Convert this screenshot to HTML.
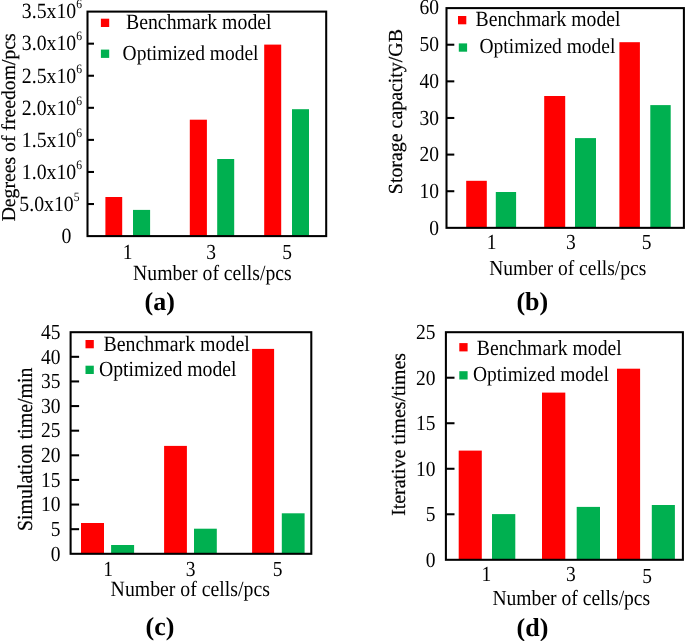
<!DOCTYPE html>
<html><head><meta charset="utf-8"><style>
html,body{margin:0;padding:0;background:#fff;}
body{width:685px;height:641px;overflow:hidden;}
svg{display:block;will-change:transform;}
text{font-family:"Liberation Serif", serif;fill:#000;text-rendering:geometricPrecision;}
</style></head><body>
<svg width="685" height="641" viewBox="0 0 685 641">
<rect width="685" height="641" fill="#fff"/>
<rect x="105.40" y="197.00" width="16.80" height="39.10" fill="#ff0000"/>
<rect x="133.00" y="209.90" width="17.10" height="26.20" fill="#00b050"/>
<rect x="189.80" y="119.70" width="17.10" height="116.40" fill="#ff0000"/>
<rect x="217.20" y="159.00" width="17.00" height="77.10" fill="#00b050"/>
<rect x="264.20" y="44.60" width="17.00" height="191.50" fill="#ff0000"/>
<rect x="292.00" y="109.20" width="17.00" height="126.90" fill="#00b050"/>
<rect x="100.90" y="18.70" width="8.30" height="8.30" fill="#ff0000"/>
<rect x="100.90" y="49.60" width="8.30" height="8.30" fill="#00b050"/>
<text transform="translate(126.00,28.70) scale(1,1.1)" text-anchor="start" font-size="19.8" font-weight="normal" >Benchmark model</text>
<text transform="translate(122.60,59.50) scale(1,1.1)" text-anchor="start" font-size="19.5" font-weight="normal" >Optimized model</text>
<line x1="87.50" y1="204.03" x2="94.00" y2="204.03" stroke="#000" stroke-width="2.05"/>
<line x1="87.50" y1="171.96" x2="94.00" y2="171.96" stroke="#000" stroke-width="2.05"/>
<line x1="87.50" y1="139.89" x2="94.00" y2="139.89" stroke="#000" stroke-width="2.05"/>
<line x1="87.50" y1="107.81" x2="94.00" y2="107.81" stroke="#000" stroke-width="2.05"/>
<line x1="87.50" y1="75.74" x2="94.00" y2="75.74" stroke="#000" stroke-width="2.05"/>
<line x1="87.50" y1="43.67" x2="94.00" y2="43.67" stroke="#000" stroke-width="2.05"/>
<rect x="87.50" y="11.60" width="238.70" height="224.50" fill="none" stroke="#000" stroke-width="2.05"/>
<text transform="translate(79.50,210.83) scale(1,1.1)" text-anchor="end" font-size="19.8" font-weight="normal" >5.0x10<tspan font-size="11.6" dy="-9.1">5</tspan></text>
<text transform="translate(82.00,178.76) scale(1,1.1)" text-anchor="end" font-size="19.8" font-weight="normal" >1.0x10<tspan font-size="11.6" dy="-9.1">6</tspan></text>
<text transform="translate(82.00,146.69) scale(1,1.1)" text-anchor="end" font-size="19.8" font-weight="normal" >1.5x10<tspan font-size="11.6" dy="-9.1">6</tspan></text>
<text transform="translate(82.00,114.61) scale(1,1.1)" text-anchor="end" font-size="19.8" font-weight="normal" >2.0x10<tspan font-size="11.6" dy="-9.1">6</tspan></text>
<text transform="translate(82.00,82.54) scale(1,1.1)" text-anchor="end" font-size="19.8" font-weight="normal" >2.5x10<tspan font-size="11.6" dy="-9.1">6</tspan></text>
<text transform="translate(82.00,50.47) scale(1,1.1)" text-anchor="end" font-size="19.8" font-weight="normal" >3.0x10<tspan font-size="11.6" dy="-9.1">6</tspan></text>
<text transform="translate(82.00,18.40) scale(1,1.1)" text-anchor="end" font-size="19.8" font-weight="normal" >3.5x10<tspan font-size="11.6" dy="-9.1">6</tspan></text>
<text transform="translate(71.50,242.60) scale(1,1.1)" text-anchor="end" font-size="19.8" font-weight="normal" >0</text>
<text transform="translate(127.70,258.50) scale(1,1.1)" text-anchor="middle" font-size="19.5" font-weight="normal" >1</text>
<text transform="translate(211.00,258.50) scale(1,1.1)" text-anchor="middle" font-size="19.5" font-weight="normal" >3</text>
<text transform="translate(287.00,258.50) scale(1,1.1)" text-anchor="middle" font-size="19.5" font-weight="normal" >5</text>
<text transform="translate(133.10,280.00) scale(1,1.1)" text-anchor="start" font-size="19.7" font-weight="normal" >Number of cells/pcs</text>
<text x="0" y="0" text-anchor="middle" font-size="19.7" transform="translate(14.50,127.35) rotate(-90) scale(1,1)" stroke="#000" stroke-width="0.2">Degrees of freedom/pcs</text>
<text x="144.60" y="310.20" text-anchor="start" font-size="26" font-weight="bold" >(a)</text>
<rect x="466.20" y="180.80" width="20.60" height="47.05" fill="#ff0000"/>
<rect x="495.80" y="192.00" width="20.30" height="35.85" fill="#00b050"/>
<rect x="544.20" y="96.00" width="21.00" height="131.85" fill="#ff0000"/>
<rect x="575.00" y="138.10" width="21.00" height="89.75" fill="#00b050"/>
<rect x="619.40" y="42.20" width="20.50" height="185.65" fill="#ff0000"/>
<rect x="650.30" y="105.10" width="20.40" height="122.75" fill="#00b050"/>
<rect x="458.00" y="16.00" width="8.30" height="8.30" fill="#ff0000"/>
<rect x="458.80" y="43.40" width="8.30" height="8.30" fill="#00b050"/>
<text transform="translate(475.60,26.10) scale(1,1.1)" text-anchor="start" font-size="19.7" font-weight="normal" >Benchmark model</text>
<text transform="translate(479.50,53.10) scale(1,1.1)" text-anchor="start" font-size="19.5" font-weight="normal" >Optimized model</text>
<line x1="446.50" y1="191.22" x2="454.30" y2="191.22" stroke="#000" stroke-width="2.05"/>
<line x1="446.50" y1="154.60" x2="454.30" y2="154.60" stroke="#000" stroke-width="2.05"/>
<line x1="446.50" y1="117.97" x2="454.30" y2="117.97" stroke="#000" stroke-width="2.05"/>
<line x1="446.50" y1="81.35" x2="454.30" y2="81.35" stroke="#000" stroke-width="2.05"/>
<line x1="446.50" y1="44.72" x2="454.30" y2="44.72" stroke="#000" stroke-width="2.05"/>
<rect x="446.50" y="8.10" width="237.40" height="219.75" fill="none" stroke="#000" stroke-width="2.05"/>
<text transform="translate(439.00,14.00) scale(1,1.1)" text-anchor="end" font-size="19.5" font-weight="normal" >60</text>
<text transform="translate(439.00,50.90) scale(1,1.1)" text-anchor="end" font-size="19.5" font-weight="normal" >50</text>
<text transform="translate(439.00,87.80) scale(1,1.1)" text-anchor="end" font-size="19.5" font-weight="normal" >40</text>
<text transform="translate(439.00,124.80) scale(1,1.1)" text-anchor="end" font-size="19.5" font-weight="normal" >30</text>
<text transform="translate(439.00,161.15) scale(1,1.1)" text-anchor="end" font-size="19.5" font-weight="normal" >20</text>
<text transform="translate(439.00,197.75) scale(1,1.1)" text-anchor="end" font-size="19.5" font-weight="normal" >10</text>
<text transform="translate(439.00,234.65) scale(1,1.1)" text-anchor="end" font-size="19.5" font-weight="normal" >0</text>
<text transform="translate(491.70,248.50) scale(1,1.1)" text-anchor="middle" font-size="19.5" font-weight="normal" >1</text>
<text transform="translate(570.90,248.50) scale(1,1.1)" text-anchor="middle" font-size="19.5" font-weight="normal" >3</text>
<text transform="translate(646.70,248.50) scale(1,1.1)" text-anchor="middle" font-size="19.5" font-weight="normal" >5</text>
<text transform="translate(489.20,274.50) scale(1,1.1)" text-anchor="start" font-size="19.5" font-weight="normal" >Number of cells/pcs</text>
<text x="0" y="0" text-anchor="middle" font-size="19.9" transform="translate(402.00,111.60) rotate(-90) scale(1,1)" stroke="#000" stroke-width="0.2">Storage capacity/GB</text>
<text x="516.40" y="309.50" text-anchor="start" font-size="26" font-weight="bold" >(b)</text>
<rect x="81.00" y="523.00" width="23.00" height="30.80" fill="#ff0000"/>
<rect x="111.10" y="545.00" width="23.00" height="8.80" fill="#00b050"/>
<rect x="164.10" y="445.90" width="22.80" height="107.90" fill="#ff0000"/>
<rect x="194.00" y="528.70" width="22.80" height="25.10" fill="#00b050"/>
<rect x="252.10" y="348.90" width="22.00" height="204.90" fill="#ff0000"/>
<rect x="281.80" y="513.30" width="22.80" height="40.50" fill="#00b050"/>
<rect x="85.50" y="340.00" width="8.30" height="8.30" fill="#ff0000"/>
<rect x="85.50" y="365.70" width="8.30" height="8.30" fill="#00b050"/>
<text transform="translate(103.40,350.80) scale(1,1.1)" text-anchor="start" font-size="19.9" font-weight="normal" >Benchmark model</text>
<text transform="translate(98.90,375.50) scale(1,1.1)" text-anchor="start" font-size="19.75" font-weight="normal" >Optimized model</text>
<line x1="70.60" y1="529.18" x2="79.10" y2="529.18" stroke="#000" stroke-width="2.05"/>
<line x1="70.60" y1="504.56" x2="79.10" y2="504.56" stroke="#000" stroke-width="2.05"/>
<line x1="70.60" y1="479.93" x2="79.10" y2="479.93" stroke="#000" stroke-width="2.05"/>
<line x1="70.60" y1="455.31" x2="79.10" y2="455.31" stroke="#000" stroke-width="2.05"/>
<line x1="70.60" y1="430.69" x2="79.10" y2="430.69" stroke="#000" stroke-width="2.05"/>
<line x1="70.60" y1="406.07" x2="79.10" y2="406.07" stroke="#000" stroke-width="2.05"/>
<line x1="70.60" y1="381.44" x2="79.10" y2="381.44" stroke="#000" stroke-width="2.05"/>
<line x1="70.60" y1="356.82" x2="79.10" y2="356.82" stroke="#000" stroke-width="2.05"/>
<rect x="70.60" y="332.20" width="240.70" height="221.60" fill="none" stroke="#000" stroke-width="2.05"/>
<text transform="translate(60.60,560.60) scale(1,1.1)" text-anchor="end" font-size="19.5" font-weight="normal" >0</text>
<text transform="translate(60.60,535.98) scale(1,1.1)" text-anchor="end" font-size="19.5" font-weight="normal" >5</text>
<text transform="translate(60.60,511.36) scale(1,1.1)" text-anchor="end" font-size="19.5" font-weight="normal" >10</text>
<text transform="translate(60.60,486.73) scale(1,1.1)" text-anchor="end" font-size="19.5" font-weight="normal" >15</text>
<text transform="translate(60.60,462.11) scale(1,1.1)" text-anchor="end" font-size="19.5" font-weight="normal" >20</text>
<text transform="translate(60.60,437.49) scale(1,1.1)" text-anchor="end" font-size="19.5" font-weight="normal" >25</text>
<text transform="translate(60.60,412.87) scale(1,1.1)" text-anchor="end" font-size="19.5" font-weight="normal" >30</text>
<text transform="translate(60.60,388.24) scale(1,1.1)" text-anchor="end" font-size="19.5" font-weight="normal" >35</text>
<text transform="translate(60.60,363.62) scale(1,1.1)" text-anchor="end" font-size="19.5" font-weight="normal" >40</text>
<text transform="translate(60.60,339.00) scale(1,1.1)" text-anchor="end" font-size="19.5" font-weight="normal" >45</text>
<text transform="translate(108.00,576.00) scale(1,1.1)" text-anchor="middle" font-size="19.5" font-weight="normal" >1</text>
<text transform="translate(190.70,576.00) scale(1,1.1)" text-anchor="middle" font-size="19.5" font-weight="normal" >3</text>
<text transform="translate(277.50,576.00) scale(1,1.1)" text-anchor="middle" font-size="19.5" font-weight="normal" >5</text>
<text transform="translate(110.60,595.60) scale(1,1.1)" text-anchor="start" font-size="19.8" font-weight="normal" >Number of cells/pcs</text>
<text x="0" y="0" text-anchor="middle" font-size="19.8" transform="translate(32.40,449.30) rotate(-90) scale(1,1.08)" stroke="#000" stroke-width="0.2">Simulation time/min</text>
<text x="145.50" y="635.20" text-anchor="start" font-size="26" font-weight="bold" >(c)</text>
<rect x="458.70" y="450.60" width="23.10" height="109.20" fill="#ff0000"/>
<rect x="492.00" y="514.10" width="23.30" height="45.70" fill="#00b050"/>
<rect x="542.00" y="392.60" width="23.30" height="167.20" fill="#ff0000"/>
<rect x="576.70" y="506.90" width="23.30" height="52.90" fill="#00b050"/>
<rect x="617.00" y="368.70" width="23.10" height="191.10" fill="#ff0000"/>
<rect x="651.80" y="505.00" width="23.10" height="54.80" fill="#00b050"/>
<rect x="459.30" y="343.10" width="8.30" height="8.30" fill="#ff0000"/>
<rect x="459.30" y="371.20" width="8.30" height="8.30" fill="#00b050"/>
<text transform="translate(476.80,355.00) scale(1,1.1)" text-anchor="start" font-size="19.7" font-weight="normal" >Benchmark model</text>
<text transform="translate(473.00,381.00) scale(1,1.1)" text-anchor="start" font-size="19.5" font-weight="normal" >Optimized model</text>
<line x1="445.90" y1="514.28" x2="454.50" y2="514.28" stroke="#000" stroke-width="2.05"/>
<line x1="445.90" y1="468.76" x2="454.50" y2="468.76" stroke="#000" stroke-width="2.05"/>
<line x1="445.90" y1="423.24" x2="454.50" y2="423.24" stroke="#000" stroke-width="2.05"/>
<line x1="445.90" y1="377.72" x2="454.50" y2="377.72" stroke="#000" stroke-width="2.05"/>
<rect x="445.90" y="332.20" width="237.00" height="227.60" fill="none" stroke="#000" stroke-width="2.05"/>
<text transform="translate(435.50,566.60) scale(1,1.1)" text-anchor="end" font-size="19.5" font-weight="normal" >0</text>
<text transform="translate(435.50,521.08) scale(1,1.1)" text-anchor="end" font-size="19.5" font-weight="normal" >5</text>
<text transform="translate(435.50,475.56) scale(1,1.1)" text-anchor="end" font-size="19.5" font-weight="normal" >10</text>
<text transform="translate(435.50,430.04) scale(1,1.1)" text-anchor="end" font-size="19.5" font-weight="normal" >15</text>
<text transform="translate(435.50,384.52) scale(1,1.1)" text-anchor="end" font-size="19.5" font-weight="normal" >20</text>
<text transform="translate(435.50,339.00) scale(1,1.1)" text-anchor="end" font-size="19.5" font-weight="normal" >25</text>
<text transform="translate(486.30,580.60) scale(1,1.1)" text-anchor="middle" font-size="19.5" font-weight="normal" >1</text>
<text transform="translate(570.90,580.60) scale(1,1.1)" text-anchor="middle" font-size="19.5" font-weight="normal" >3</text>
<text transform="translate(647.00,582.70) scale(1,1.1)" text-anchor="middle" font-size="19.5" font-weight="normal" >5</text>
<text transform="translate(492.40,604.90) scale(1,1.1)" text-anchor="start" font-size="19.6" font-weight="normal" >Number of cells/pcs</text>
<text x="0" y="0" text-anchor="middle" font-size="19.9" transform="translate(404.50,434.40) rotate(-90) scale(1,1)" stroke="#000" stroke-width="0.2">Iterative times/times</text>
<text x="516.60" y="636.00" text-anchor="start" font-size="26" font-weight="bold" >(d)</text>
</svg>
</body></html>
